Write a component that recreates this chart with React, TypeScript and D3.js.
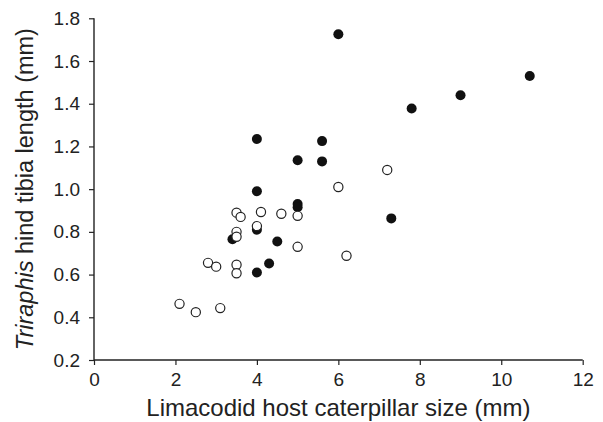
import { useEffect, useRef } from "react";
import * as d3 from "d3";

// host caterpillar size (mm) vs hind tibia length (mm)
const filledSize = [6, 4, 5.6, 5, 5.6, 4, 5, 5, 4, 3.4, 4.5, 4.3, 4, 10.7, 9, 7.8, 7.3];
const filledTibia = [1.725, 1.235, 1.225, 1.135, 1.13, 0.99, 0.93, 0.915, 0.81, 0.765, 0.755, 0.652, 0.61, 1.53, 1.44, 1.378, 0.863];

const openSize = [6, 5, 3.5, 3.6, 4.1, 4.6, 4, 3.5, 3.5, 5, 2.8, 3, 3.5, 3.5, 2.1, 2.5, 3.1, 7.2, 6.2];
const openTibia = [1.01, 0.875, 0.89, 0.87, 0.893, 0.885, 0.827, 0.8, 0.777, 0.73, 0.655, 0.637, 0.646, 0.606, 0.463, 0.424, 0.443, 1.09, 0.688];

const xTicks = [0, 2, 4, 6, 8, 10, 12];
const yTicks = [0.2, 0.4, 0.6, 0.8, 1.0, 1.2, 1.4, 1.6, 1.8];

const W = 603;
const H = 422;
const FONT = "'Liberation Sans', Arial, sans-serif";

export default function App() {
  const svgRef = useRef<SVGSVGElement>(null);

  useEffect(() => {
    if (!svgRef.current) return;
    const svg = d3.select(svgRef.current);
    svg.selectAll("*").remove();

    const margin = { top: 18.3, right: 20.3, bottom: 62, left: 94 };
    const x = d3.scaleLinear().domain([0, 12]).range([margin.left, W - margin.right]);
    const y = d3.scaleLinear().domain([0.2, 1.8]).range([H - margin.bottom, margin.top]);

    // Axes
    const xAxis = svg.append("g")
      .attr("transform", `translate(0,${H - margin.bottom})`)
      .call(d3.axisBottom(x).tickValues(xTicks).tickSize(5).tickPadding(8).tickFormat(d => `${d}`));
    const yAxis = svg.append("g")
      .attr("transform", `translate(${margin.left},0)`)
      .call(d3.axisLeft(y).tickValues(yTicks).tickSize(5).tickPadding(9).tickFormat(d3.format(".1f")));

    [xAxis, yAxis].forEach(g => {
      g.select(".domain").attr("stroke", "#222").attr("stroke-width", 1.4);
      g.selectAll(".tick line").attr("stroke", "#222").attr("stroke-width", 1.2);
      g.selectAll("text").attr("fill", "#222").attr("font-size", "19px").attr("font-family", FONT);
    });
    // drop the outer tick stubs on the domain path
    xAxis.select(".domain").attr("d", `M${x(0)},0H${x(12)}`);
    yAxis.select(".domain").attr("d", `M0,${y(0.2)}V${y(1.8)}`);

    // Filled points
    svg.append("g")
      .selectAll("circle")
      .data(d3.range(filledSize.length))
      .join("circle")
      .attr("cx", i => x(filledSize[i]))
      .attr("cy", i => y(filledTibia[i]))
      .attr("r", 5)
      .attr("fill", "#111");

    // Open points
    svg.append("g")
      .selectAll("circle")
      .data(d3.range(openSize.length))
      .join("circle")
      .attr("cx", i => x(openSize[i]))
      .attr("cy", i => y(openTibia[i]))
      .attr("r", 4.6)
      .attr("fill", "#fff")
      .attr("stroke", "#222")
      .attr("stroke-width", 1.2);

    // Axis titles
    svg.append("text")
      .attr("x", (x(0) + x(12)) / 2)
      .attr("y", 416)
      .attr("text-anchor", "middle")
      .attr("font-size", "24px")
      .attr("font-family", FONT)
      .attr("fill", "#222")
      .text("Limacodid host caterpillar size (mm)");

    const yTitle = svg.append("text")
      .attr("transform", `translate(33,${(y(0.2) + y(1.8)) / 2}) rotate(-90)`)
      .attr("text-anchor", "middle")
      .attr("font-size", "23.5px")
      .attr("font-family", FONT)
      .attr("fill", "#222");
    yTitle.append("tspan").attr("font-style", "italic").text("Triraphis");
    yTitle.append("tspan").text(" hind tibia length (mm)");
  }, []);

  return (
    <div style={{ position: "fixed", left: 0, top: 0, width: W, height: H, background: "#fff" }}>
      <svg ref={svgRef} width={W} height={H} style={{ display: "block" }} />
    </div>
  );
}
